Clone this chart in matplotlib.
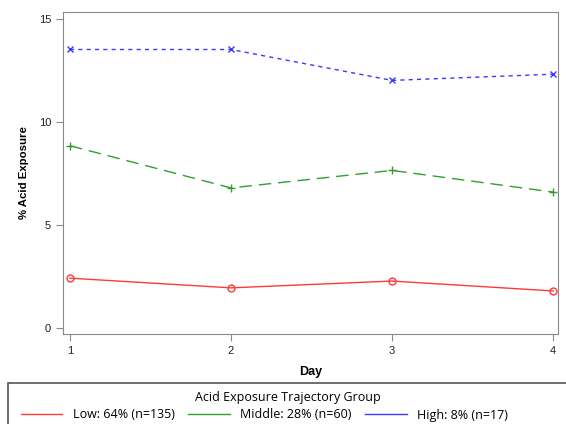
import matplotlib.pyplot as plt
from matplotlib.patches import Rectangle
from matplotlib.lines import Line2D

days = [1, 2, 3, 4]
low = [2.42, 1.95, 2.28, 1.80]
middle = [8.85, 6.80, 7.65, 6.60]
high = [13.52, 13.52, 12.02, 12.32]
labels = ['Low: 64% (n=135)', 'Middle: 28% (n=60)', 'High: 8% (n=17)']
colors = ['#ff3a3a', '#2f9f2f', '#3a3aff']

plt.rcParams['font.family'] = ['Liberation Sans', 'DejaVu Sans']

fig = plt.figure(figsize=(5.66, 4.24), dpi=100)
ax = fig.add_axes([63 / 566, 90 / 424, 495 / 566, 322 / 424])

ax.plot(days, low, color=colors[0], lw=1, marker='o', ms=5, mfc='none', mew=1)
ax.plot(days, middle, color=colors[1], lw=1, marker='+', ms=6, mew=1,
        dashes=(9, 5))
ax.plot(days, high, color=colors[2], lw=1, marker='x', ms=4.5, mew=1,
        dashes=(3, 3))

ax.set_xlim(0.957, 4.03)
ax.set_ylim(-0.29, 15.34)
ax.set_xticks(days)
ax.set_yticks([0, 5, 10, 15])
for s in ax.spines.values():
    s.set_color('#8a8a8a')
ax.tick_params(colors='#8a8a8a', labelcolor='#222222', labelsize=8, length=5)
ax.set_xlabel('Day', fontsize=9, fontweight='bold', labelpad=7)
ax.set_ylabel('% Acid Exposure', fontsize=8.2, fontweight='bold', labelpad=7)

# legend box, runs off the right and bottom edge
fig.patches.append(Rectangle((8 / 566, -0.1), 1.0, (424 - 383) / 424 + 0.1,
                             transform=fig.transFigure, fill=False,
                             ec='#555555', lw=1.2))
fig.text(288 / 566, 1 - 397 / 424, 'Acid Exposure Trajectory Group',
         ha='center', va='center', family='Open Sans', fontsize=9)
handles = [Line2D([], [], color=c, lw=1) for c in colors]
leg = fig.legend(handles, labels, ncol=3, loc='center left',
                 bbox_to_anchor=(12 / 566, 1 - 415 / 424), frameon=False,
                 prop={'family': 'Open Sans', 'size': 9},
                 handlelength=3.3, handletextpad=0.85, columnspacing=1.1,
                 borderpad=0.2)

fig.savefig('out.png', dpi=100)
